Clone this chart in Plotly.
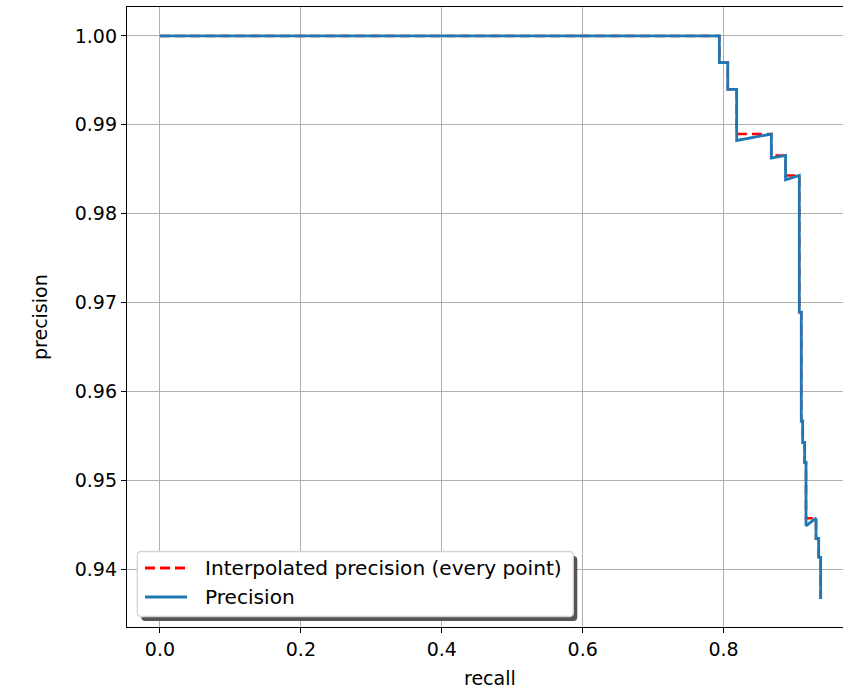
import plotly.graph_objects as go

# Precision curve (recall, precision)
recall = [0.0, 0.794, 0.794, 0.806, 0.806, 0.8186, 0.8186, 0.8678, 0.8678, 0.888, 0.888,
          0.9075, 0.9075, 0.9103, 0.9103, 0.9123, 0.9123, 0.9151, 0.9151, 0.9170, 0.9170,
          0.9312, 0.9312, 0.9350, 0.9350, 0.9378, 0.9378]
precision = [1.0, 1.0, 0.9970, 0.9970, 0.9940, 0.9940, 0.98824, 0.98896, 0.98626, 0.98655, 0.98382,
             0.98430, 0.96891, 0.96891, 0.95666, 0.95666, 0.95424, 0.95424, 0.95199, 0.95199, 0.94487,
             0.94573, 0.94345, 0.94345, 0.94131, 0.94131, 0.93663]

# Interpolated precision (every point) envelope
interp_recall = [0.0, 0.794, 0.794, 0.806, 0.806, 0.8186, 0.8186, 0.8678, 0.8678, 0.888, 0.888,
                 0.9075, 0.9075, 0.9103, 0.9103, 0.9123, 0.9123, 0.9151, 0.9151, 0.9170, 0.9170,
                 0.9312, 0.9312, 0.9350, 0.9350, 0.9378, 0.9378]
interp_precision = [1.0, 1.0, 0.9970, 0.9970, 0.9940, 0.9940, 0.98896, 0.98896, 0.98655, 0.98655, 0.98430,
                    0.98430, 0.96891, 0.96891, 0.95666, 0.95666, 0.95424, 0.95424, 0.95199, 0.95199, 0.94573,
                    0.94573, 0.94345, 0.94345, 0.94131, 0.94131, 0.93663]

x_ticks = [0.0, 0.2, 0.4, 0.6, 0.8]
x_tick_labels = ["0.0", "0.2", "0.4", "0.6", "0.8"]
y_ticks = [0.94, 0.95, 0.96, 0.97, 0.98, 0.99, 1.00]
y_tick_labels = ["0.94", "0.95", "0.96", "0.97", "0.98", "0.99", "1.00"]

series_names = ["Interpolated precision (every point)", "Precision"]
series_colors = ["#ff0000", "#1f77b4"]
series_dash = ["10px,5px", "solid"]
series_width = [2.5, 2.8]

FONT = "DejaVu Sans"
W, H = 852, 692          # axes extend slightly past the 843px window, as in the reference crop
ML, MT, MB = 127, 7, 65
PW, PH = W - ML, H - MT - MB


def px(x):
    return (x - ML) / PW


def py(y):
    return (H - MB - y) / PH


fig = go.Figure()
for xs, ys, i in [(interp_recall, interp_precision, 0), (recall, precision, 1)]:
    fig.add_trace(go.Scatter(x=xs, y=ys, mode="lines", name=series_names[i], showlegend=False,
                             line=dict(color=series_colors[i], width=series_width[i],
                                       dash=series_dash[i])))


def rounded_rect(x0, y0, x1, y1, r):
    rx, ry = r / PW, r / PH
    X0, X1 = px(x0), px(x1)
    Yt, Yb = py(y0), py(y1)
    return (f"M {X0 + rx} {Yt} L {X1 - rx} {Yt} Q {X1} {Yt} {X1} {Yt - ry} "
            f"L {X1} {Yb + ry} Q {X1} {Yb} {X1 - rx} {Yb} "
            f"L {X0 + rx} {Yb} Q {X0} {Yb} {X0} {Yb + ry} "
            f"L {X0} {Yt - ry} Q {X0} {Yt} {X0 + rx} {Yt} Z")


# legend: shadow, box, samples, labels
fig.add_shape(type="path", xref="paper", yref="paper", layer="above",
              path=rounded_rect(141.3, 556.0, 577.3, 621.0, 4),
              fillcolor="#555555", line=dict(width=0))
fig.add_shape(type="path", xref="paper", yref="paper", layer="above",
              path=rounded_rect(137.3, 551.5, 573.3, 616.5, 4),
              fillcolor="white", line=dict(color="#d4d4d4", width=1.3))
row_y = [568.0, 597.0]
for i in range(2):
    fig.add_shape(type="line", xref="paper", yref="paper", layer="above",
                  x0=px(145.0), x1=px(187.0), y0=py(row_y[i]), y1=py(row_y[i]),
                  line=dict(color=series_colors[i], width=2.8, dash=series_dash[i]))
    fig.add_annotation(text=series_names[i], xref="paper", yref="paper",
                       x=px(203.0), y=py(row_y[i]), showarrow=False,
                       xanchor="left", yanchor="middle",
                       font=dict(family=FONT, size=20.1, color="black"))

fig.add_annotation(text="recall", xref="paper", yref="paper", x=px(490), y=py(678),
                   showarrow=False, xanchor="center", yanchor="middle",
                   font=dict(family=FONT, size=19, color="black"))
fig.add_annotation(text="precision", xref="paper", yref="paper", x=px(40), y=py(317),
                   showarrow=False, xanchor="center", yanchor="middle", textangle=-90,
                   font=dict(family=FONT, size=19, color="black"))

fig.update_layout(
    width=W, height=H,
    margin=dict(l=ML, r=0, t=MT, b=MB, autoexpand=False),
    paper_bgcolor="white", plot_bgcolor="white",
    font=dict(family=FONT, size=19, color="black"),
    showlegend=False,
    xaxis=dict(range=[-0.0468, 0.9823], tickvals=x_ticks, ticktext=x_tick_labels,
               showgrid=True, gridcolor="#b0b0b0", gridwidth=1, automargin=False,
               showline=True, linecolor="black", linewidth=1.3, mirror=True,
               ticks="outside", ticklen=5, tickwidth=1.3, tickcolor="black",
               zeroline=False),
    yaxis=dict(range=[0.93348, 1.00326], tickvals=y_ticks, ticktext=y_tick_labels,
               showgrid=True, gridcolor="#b0b0b0", gridwidth=1, automargin=False,
               showline=True, linecolor="black", linewidth=1.3, mirror=False,
               ticks="outside", ticklen=5, tickwidth=1.3, tickcolor="black",
               zeroline=False),
)

fig.write_html("out.html", config={"displayModeBar": False},
               post_script="document.body.style.margin='0px';document.body.style.overflow='hidden';")
